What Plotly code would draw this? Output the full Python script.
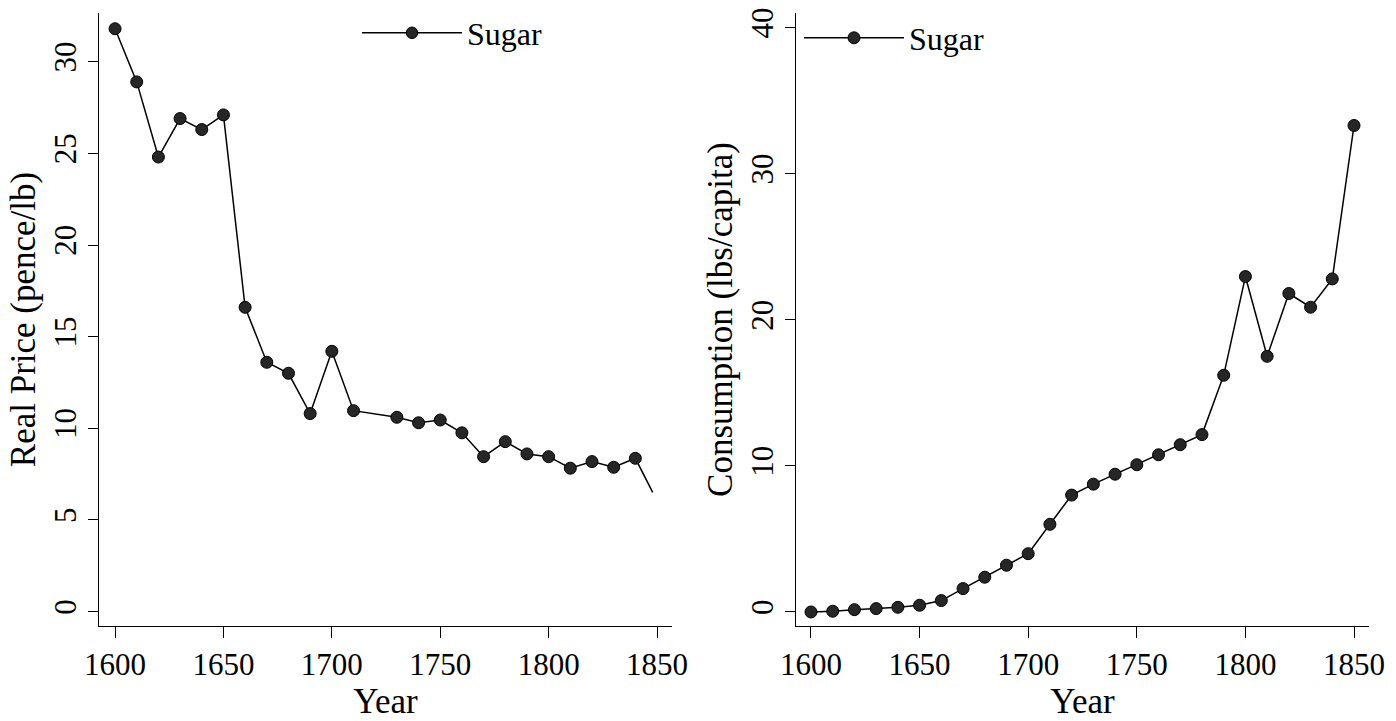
import plotly.graph_objects as go

# ---- data ----
price_years = [1600, 1610, 1620, 1630, 1640, 1650, 1660, 1670, 1680, 1690, 1700, 1710,
               1730, 1740, 1750, 1760, 1770, 1780, 1790, 1800, 1810, 1820, 1830, 1840, 1848]
price_values = [31.8, 28.9, 24.8, 26.9, 26.3, 27.1, 16.6, 13.6, 13.0, 10.8, 14.2, 10.96,
                10.6, 10.3, 10.45, 9.75, 8.45, 9.27, 8.6, 8.45, 7.82, 8.18, 7.87, 8.36, 6.5]
price_marked = [True] * 24 + [False]

cons_years = [1600, 1610, 1620, 1630, 1640, 1650, 1660, 1670, 1680, 1690, 1700, 1710, 1720,
              1730, 1740, 1750, 1760, 1770, 1780, 1790, 1800, 1810, 1820, 1830, 1840, 1850]
cons_values = [0.0, 0.05, 0.16, 0.23, 0.32, 0.46, 0.78, 1.6, 2.38, 3.2, 3.99, 6.0, 8.0,
               8.75, 9.43, 10.08, 10.76, 11.45, 12.14, 16.2, 22.96, 17.5, 21.8, 20.86, 22.8, 33.3]

x_ticks = [1600, 1650, 1700, 1750, 1800, 1850]
price_ticks = [0, 5, 10, 15, 20, 25, 30]
cons_ticks = [0, 10, 20, 30, 40]

series_name = "Sugar"
y_title_left = "Real Price (pence/lb)"
y_title_right = "Consumption (lbs/capita)"
x_title = "Year"

# ---- style ----
FONT = "Liberation Serif"
MS = 12
MCOLOR = "#262626"
fig = go.Figure()

fig.add_trace(go.Scatter(
    x=price_years, y=price_values, mode="lines+markers", name=series_name,
    line=dict(color="black", width=1.5),
    marker=dict(size=[MS if m else 0 for m in price_marked], color=MCOLOR, opacity=1,
                line=dict(color="black", width=1)),
    xaxis="x", yaxis="y", legend="legend"))

fig.add_trace(go.Scatter(
    x=cons_years, y=cons_values, mode="lines+markers", name=series_name,
    line=dict(color="black", width=1.5),
    marker=dict(size=MS, color=MCOLOR, opacity=1, line=dict(color="black", width=1)),
    xaxis="x2", yaxis="y2", legend="legend2"))

axis_common = dict(showgrid=False, zeroline=False, showline=True, linecolor="black",
                   linewidth=1, ticks="outside", tickcolor="black", tickwidth=1,
                   tickfont=dict(family=FONT, size=31, color="black"),
                   automargin=False, mirror=False)

ydom = [1 - 626 / 721, 1 - 13 / 721]
TFONT = dict(family=FONT, size=35, color="black")

fig.update_layout(
    width=1396, height=721,
    paper_bgcolor="white", plot_bgcolor="white",
    margin=dict(l=0, r=0, t=0, b=0),
    showlegend=True,
    xaxis=dict(domain=[99 / 1396, 672 / 1396], range=[1592.6, 1856.9],
               tickvals=x_ticks, ticklen=11, anchor="y",
               title=dict(text=x_title, font=TFONT, standoff=10),
               **axis_common),
    yaxis=dict(domain=ydom, range=[-0.79, 32.66], tickvals=price_ticks, ticklen=10,
               tickangle=-90, anchor="x",
               title=dict(text=y_title_left, font=TFONT, standoff=1),
               **axis_common),
    xaxis2=dict(domain=[796 / 1396, 1369 / 1396], range=[1593.1, 1856.9],
                tickvals=x_ticks, ticklen=11, anchor="y2",
                title=dict(text=x_title, font=TFONT, standoff=10),
                **axis_common),
    yaxis2=dict(domain=ydom, range=[-0.96, 41.0], tickvals=cons_ticks, ticklen=10,
                tickangle=-90, anchor="x2",
                title=dict(text=y_title_right, font=TFONT, standoff=1),
                **axis_common),
    legend=dict(x=357 / 1396, y=1 - 33 / 721, xanchor="left", yanchor="middle",
                bgcolor="rgba(0,0,0,0)", itemwidth=100,
                font=dict(family=FONT, size=32, color="black")),
    legend2=dict(x=799 / 1396, y=1 - 38 / 721, xanchor="left", yanchor="middle",
                 bgcolor="rgba(0,0,0,0)", itemwidth=100,
                 font=dict(family=FONT, size=32, color="black")),
)

fig.write_html("out.html", config={"displayModeBar": False},
               post_script="document.body.style.margin='0';document.body.style.padding='0';")
